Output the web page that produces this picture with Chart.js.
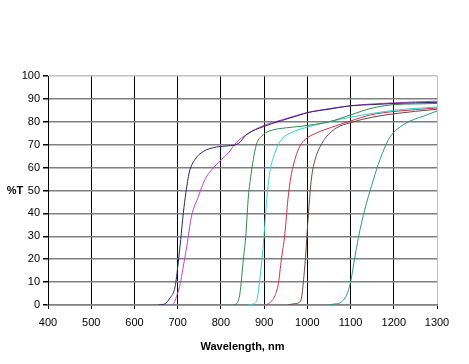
<!DOCTYPE html>
<html>
<head>
<meta charset="utf-8">
<script src="https://cdn.jsdelivr.net/npm/chart.js@4/dist/chart.umd.min.js"></script>
<style>
	html, body { margin: 0; padding: 0; background: #fff; }
</style>
</head>
<body>
<canvas id="chart" width="469" height="364"></canvas>
<script>
// axis ticks
const xTicks = [400, 500, 600, 700, 800, 900, 1000, 1100, 1200, 1300];
const yTicks = [0, 10, 20, 30, 40, 50, 60, 70, 80, 90, 100];

// transmission curves (wavelength nm / %T)
const nm700 = [655, 670, 682, 694, 701, 707, 713, 719, 727, 740, 759, 790, 817, 840, 860, 900, 940, 983, 1000, 1050, 1100, 1150, 1200, 1250, 1300];
const t700 = [0, 0.5, 3, 8, 18, 28.5, 40, 49, 58, 63.5, 67, 69, 69.5, 70.5, 74.5, 78, 80.5, 83, 84, 85.5, 87, 87.5, 88, 88.3, 88.5];

const nm720 = [686, 692, 697, 703, 709, 715, 721, 732, 748, 763, 786, 817, 836, 860, 900, 940, 1000, 1100, 1200, 1300];
const t720 = [0, 1, 3.6, 7, 12.4, 19, 25.5, 38.7, 47.4, 54.8, 60.6, 66.4, 71, 74.5, 78.5, 80.8, 84, 87, 88.3, 89];

const nm850 = [829, 838, 844, 852, 858, 863, 869, 875, 882, 894, 913, 952, 983, 1050, 1100, 1150, 1200, 1250, 1300];
const t850 = [0, 1, 5, 20, 31, 46, 56, 63.5, 70, 73.7, 76, 77.4, 78, 80, 83, 86, 87.5, 87.8, 88];

const nm900 = [863, 875, 883, 890, 897, 900, 906, 913, 925, 940, 960, 1006, 1050, 1100, 1200, 1300];
const t900 = [0, 0.5, 2, 11, 24, 31, 46, 57.7, 66.4, 72.3, 75, 78, 80, 82, 85, 86.5];

const nm950 = [902, 913, 925, 933, 940, 948, 955, 962, 972, 983, 995, 1022, 1053, 1099, 1146, 1200, 1300];
const t950 = [0, 1, 4, 9.5, 20, 31, 46, 56, 64, 69.5, 72.3, 75.2, 77.4, 80.3, 83, 84.5, 86];

const nm1000 = [955, 968, 980, 987, 992, 997, 1000, 1005, 1010, 1018, 1030, 1045, 1068, 1099, 1150, 1200, 1300];
const t1000 = [0, 0.5, 1, 3.6, 12.4, 24, 33, 46, 56, 63.5, 69.3, 73.7, 77.4, 79.6, 82, 83.5, 85.5];

const nm1150 = [1049, 1065, 1076, 1091, 1100, 1110, 1122, 1137, 1153, 1168, 1188, 1199, 1230, 1269, 1300];
const t1150 = [0, 0.5, 1, 4.4, 10, 21, 33, 44.5, 54.8, 63.5, 72.3, 75.2, 79.6, 82.5, 84.7];

function toPoints(xs, ys) {
	return xs.map((x, i) => ({ x: x, y: ys[i] }));
}

function curve(xs, ys, color) {
	return {
		data: toPoints(xs, ys),
		borderColor: color,
		borderWidth: 1,
		pointRadius: 0,
		fill: false,
		cubicInterpolationMode: 'monotone'
	};
}

// "%T" is horizontal in the original, so draw it by hand next to the y axis
const yLabelPlugin = {
	id: 'yLabel',
	afterDraw(chart) {
		const ctx = chart.ctx;
		ctx.save();
		ctx.font = "bold 11px 'Liberation Sans', Arial, sans-serif";
		ctx.fillStyle = '#000';
		ctx.textAlign = 'center';
		ctx.textBaseline = 'middle';
		ctx.fillText('%T', 15, chart.scales.y.getPixelForValue(50));
		ctx.restore();
	}
};

Chart.defaults.font.family = "'Liberation Sans', Arial, sans-serif";
Chart.defaults.font.size = 11;
Chart.defaults.color = '#000';

new Chart(document.getElementById('chart'), {
	type: 'line',
	data: {
		datasets: [
			curve(nm700, t700, '#26266e'),
			curve(nm720, t720, '#c53fcc'),
			curve(nm850, t850, '#2e8a4c'),
			curve(nm900, t900, '#33d2d2'),
			curve(nm950, t950, '#d0304c'),
			curve(nm1000, t1000, '#6e4444'),
			curve(nm1150, t1150, '#2a9a7e')
		]
	},
	options: {
		responsive: false,
		devicePixelRatio: 1,
		animation: false,
		layout: {
			padding: { top: 76, right: 32, bottom: 0, left: 0 }
		},
		scales: {
			x: {
				type: 'linear',
				min: xTicks[0],
				max: xTicks[xTicks.length - 1],
				afterBuildTicks: scale => { scale.ticks = xTicks.map(v => ({ value: v })); },
				afterFit: scale => { scale.height = 59; },
				ticks: { padding: 7, maxRotation: 0, callback: v => String(v) },
				grid: {
					color: c => (c.tick && c.tick.value === 1300) ? '#c0c0c0' : '#000',
					lineWidth: 1,
					tickLength: 4,
					tickColor: '#000'
				},
				border: { color: '#808080', width: 1.5 },
				title: {
					display: true,
					text: 'Wavelength, nm',
					font: { weight: 'bold', size: 11 },
					padding: { top: 8, bottom: 10 }
				}
			},
			y: {
				min: yTicks[0],
				max: yTicks[yTicks.length - 1],
				afterBuildTicks: scale => { scale.ticks = yTicks.map(v => ({ value: v })); },
				afterFit: scale => { scale.width = 48; },
				ticks: { padding: 3, callback: v => String(v) },
				grid: {
					color: c => (c.tick && c.tick.value === 100) ? '#c0c0c0' : '#808080',
					lineWidth: 1.5,
					tickLength: 5,
					tickColor: '#000'
				},
				border: { color: '#000', width: 1 }
			}
		},
		plugins: {
			legend: { display: false },
			tooltip: { enabled: false }
		}
	},
	plugins: [yLabelPlugin]
});
</script>
</body>
</html>
